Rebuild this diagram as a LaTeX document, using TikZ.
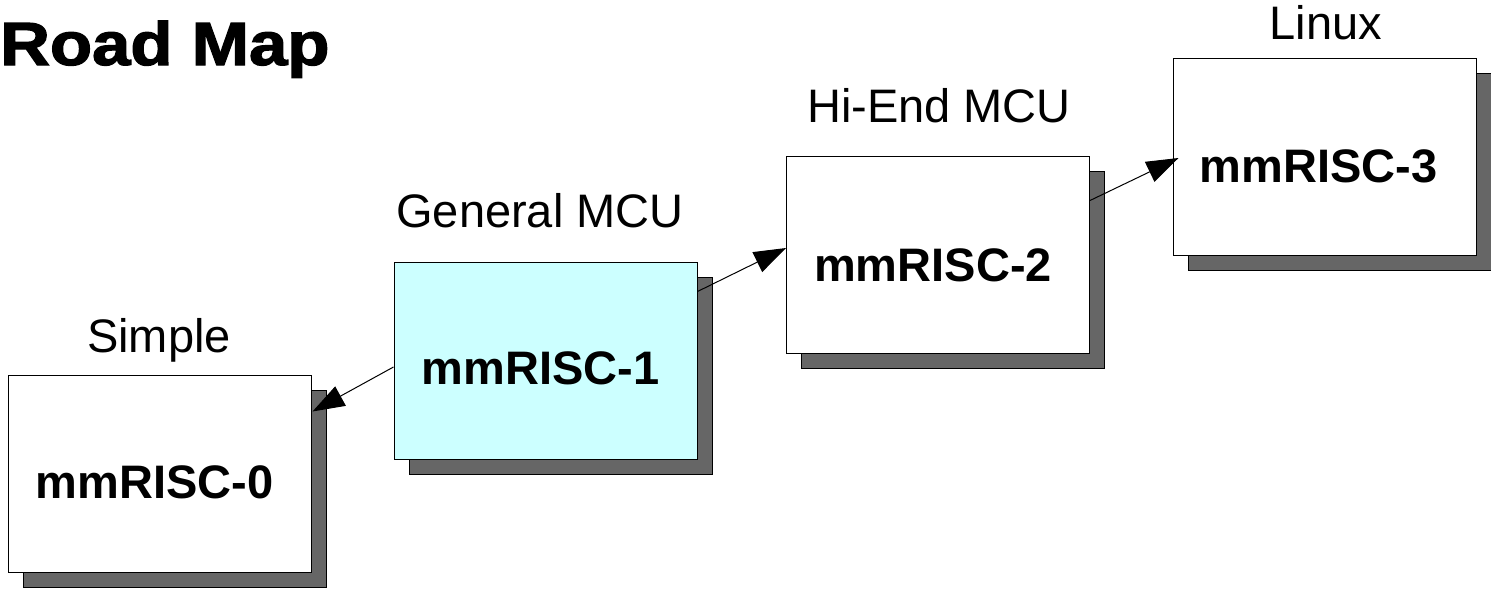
\documentclass[tikz,border=0pt]{standalone}
\usepackage{fontspec}
\setmainfont{Liberation Sans}
\newfontfamily\titlefont[BoldFeatures={FakeBold=2}]{Liberation Sans}
\usetikzlibrary{shadows,arrows.meta,calc}
\definecolor{shadowgray}{HTML}{666666}
\definecolor{boxcyan}{HTML}{CCFFFF}
\tikzset{
 box/.style={draw=black, line width=1pt, fill=white, minimum width=303pt, minimum height=197pt,
   inner sep=0pt, text height=52pt, text depth=0pt,
   font=\fontsize{47}{52}\selectfont\bfseries,
   general shadow={fill=shadowgray, draw=black, line width=1pt, shadow xshift=15pt, shadow yshift=-15pt}},
 boxtext/.style={inner sep=0pt, font=\fontsize{47}{52}\selectfont\bfseries},
 lbl/.style={anchor=base, inner sep=0pt, font=\fontsize{47}{52}\selectfont},
 conn/.style={line width=1pt, -{Triangle[length=32pt,width=22pt]}}
}
\begin{document}
\begin{tikzpicture}[x=1pt,y=-1pt]
\useasboundingbox (0,0) rectangle (1491,608);
\node[anchor=base west, inner sep=0pt, font=\fontsize{61}{66}\titlefont\bfseries] (title) at (0,65) {\scalebox{1.13}[1]{Road Map}};

\node[box] (b0) at (159.5,473.5) {};
\node[box, fill=boxcyan] (b1) at (545.5,360.5) {};
\node[box] (b2) at (938,254.5) {};
\node[box] (b3) at (1324.5,156.5) {};

\node[boxtext] (t0) at ($(b0.center)+(-5,9)$) {mmRISC-0};
\node[boxtext] (t1) at ($(b1.center)+(-5,8)$) {mmRISC-1};
\node[boxtext] (t2) at ($(b2.center)+(-5,11)$) {mmRISC-2};
\node[boxtext] (t3) at ($(b3.center)+(-6,10)$) {mmRISC-3};

\node[lbl] (l0) at (159,352) {Simple};
\node[lbl] (l1) at (540,227) {General MCU};
\node[lbl] (l2) at (939,122) {Hi-End MCU};
\node[lbl] (l3) at (1326,39) {Linux};

\draw[conn] ($(b1.west)+(0,6.5)$) -- ($(b0.north east)+(1,37)$);
\draw[conn] ($(b1.north east)+(0,30)$) -- ($(b2.west)+(0,-6.5)$);
\draw[conn] ($(b2.north east)+(0,45)$) -- ($(b3.west)+(6,1.5)$);
\end{tikzpicture}
\end{document}
